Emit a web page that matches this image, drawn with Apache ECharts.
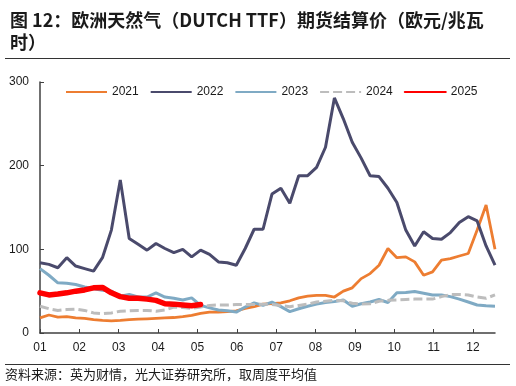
<!DOCTYPE html>
<html>
<head>
<meta charset="utf-8">
<script src="https://cdn.jsdelivr.net/npm/echarts@6/dist/echarts.min.js"></script>
<style>
html,body{margin:0;padding:0;background:#fff;}
#c{width:516px;height:386px;}
</style>
</head>
<body>
<div id="c"></div>
<script>
// Weekly settlement prices (EUR/MWh), week index 0..51
var monthLabels = ['01','02','03','04','05','06','07','08','09','10','11','12'];
var seriesNames = ['2021','2022','2023','2024','2025'];

var y2021 = [18,21.5,19,19.5,18,17.5,16,15,14.5,15,16,16.5,17,17.5,18,18.5,19.5,21,23.5,25,25,25.5,26.5,29.5,31.5,34.5,
             35,36,38.5,42,44,45,45,43,50,54,65,71,81,101,90,91,85,69,73,87,89,92,95,123,153,100];
var y2022 = [84,82,78,90,80,77,74,90,123,183,113,106,99,107,101,96,100,91,99,94,85,84,81,101,124,124,
             166,173,155,188,188,198,222,281,256,228,209,188,187,173,156,123,104,121,113,112,120,132,139,134,104,81];
var y2023 = [77,69,60,59.5,58,55,53,51,50,44,46,43,43,48,43,41.5,39.5,42,33,30,27.5,26.5,25,31,36,33,
             37,31.5,25.5,29,32,34.5,36.5,37.5,39.5,32,35,37,40,36.5,48,48.5,49.5,47.5,45.5,45.5,43.5,40.5,37,33.5,32.5,32];
var y2024 = [32,29,27,28,28.5,27,24,23,24,26,26.5,27,27,26,27.5,31,30.5,29.5,31,33,33.5,33.5,34,34,34,34.5,
             34,33,31.5,33,34.5,37,38,39,38.5,35.5,34.5,35,38,39,39.5,40,40.5,40.5,40.5,43.5,46,46,45.5,43,41.5,45.5];
var y2025 = [48,45.5,46.5,48,50,51.5,54,54.5,48,43.5,41.5,41.5,40.5,39,35,34.5,33.5,32.5,34];

var yTicks = [0,100,200,300];

function pairs(arr){ return arr.map(function(v,i){ return [i, v]; }); }

var weeksPerMonth = 4.412;
var monthPos = monthLabels.map(function(_, m){ return m * weeksPerMonth; });

var chart = echarts.init(document.getElementById('c'), null, {renderer:'canvas'});
var numFont = 'Liberation Sans, Arial, sans-serif';
var cjkFont = '"Noto Sans CJK SC", sans-serif';
var axisColor = '#404040';

chart.setOption({
  animation: false,
  backgroundColor: '#fff',
  title: {
    text: '图 12：欧洲天然气（DUTCH TTF）期货结算价（欧元/兆瓦\n时）',
    left: 5, top: 4,
    textStyle: {fontFamily: cjkFont, fontSize: 18, fontWeight: 'bold', color: '#1a1a1a', lineHeight: 22}
  },
  graphic: [
    {type:'line', shape:{x1:5,y1:58.5,x2:510,y2:58.5}, style:{stroke:'#333',lineWidth:1}},
    {type:'line', shape:{x1:5,y1:364.5,x2:510,y2:364.5}, style:{stroke:'#333',lineWidth:1}},
    {type:'text', left:5, top:368, style:{text:'资料来源：英为财情，光大证券研究所，取周度平均值', font:'13px "Noto Sans CJK SC", sans-serif', fill:'#1a1a1a'}}
  ],
  legend: {
    left: 60, top: 81,
    itemWidth: 41, itemHeight: 14, itemGap: 11,
    itemStyle: {color: 'rgba(0,0,0,0)', borderColor: 'rgba(0,0,0,0)', borderWidth: 0, opacity: 0},
    textStyle: {fontFamily: numFont, fontSize: 12, color: '#1a1a1a'},
    data: seriesNames
  },
  grid: {left: 40, right: 21, top: 82, bottom: 53, containLabel: false},
  xAxis: {
    type: 'value', min: 0, max: 51,
    axisLine: {show: true, onZero: false, lineStyle: {color: axisColor, width: 1.5}},
    axisTick: {show: true, inside: true, length: 4, customValues: monthPos, lineStyle: {color: axisColor}},
    axisLabel: {
      customValues: monthPos, margin: 9,
      fontFamily: numFont, fontSize: 12, color: '#1a1a1a',
      formatter: function(v){ var m = Math.round(v / weeksPerMonth); return monthLabels[m] || ''; }
    },
    splitLine: {show: false}
  },
  yAxis: {
    type: 'value', min: yTicks[0], max: yTicks[yTicks.length-1], interval: 100,
    axisLine: {show: true, lineStyle: {color: axisColor, width: 1.5}},
    axisTick: {show: true, inside: true, length: 4, lineStyle: {color: axisColor}},
    axisLabel: {margin: 11, fontFamily: numFont, fontSize: 12, color: '#1a1a1a'},
    splitLine: {show: false}
  },
  series: [
    {name:'2021', type:'line', data:pairs(y2021), showSymbol:false, symbol:'none', color:'#ED7D31', lineStyle:{width:2.8, color:'#ED7D31'}},
    {name:'2022', type:'line', data:pairs(y2022), showSymbol:false, symbol:'none', color:'#4A4A6C', lineStyle:{width:3, color:'#4A4A6C'}},
    {name:'2023', type:'line', data:pairs(y2023), showSymbol:false, symbol:'none', color:'#7FAAC4', lineStyle:{width:3, color:'#7FAAC4'}},
    {name:'2024', type:'line', data:pairs(y2024), showSymbol:false, symbol:'none', color:'#BDBDBD', lineStyle:{width:3, color:'#BDBDBD', type:[9,4]}},
    {name:'2025', type:'line', data:pairs(y2025), showSymbol:false, symbol:'none', color:'#FF0000', lineStyle:{width:5.5, color:'#FF0000', cap:'round', join:'round'}}
  ]
});
</script>
</body>
</html>
